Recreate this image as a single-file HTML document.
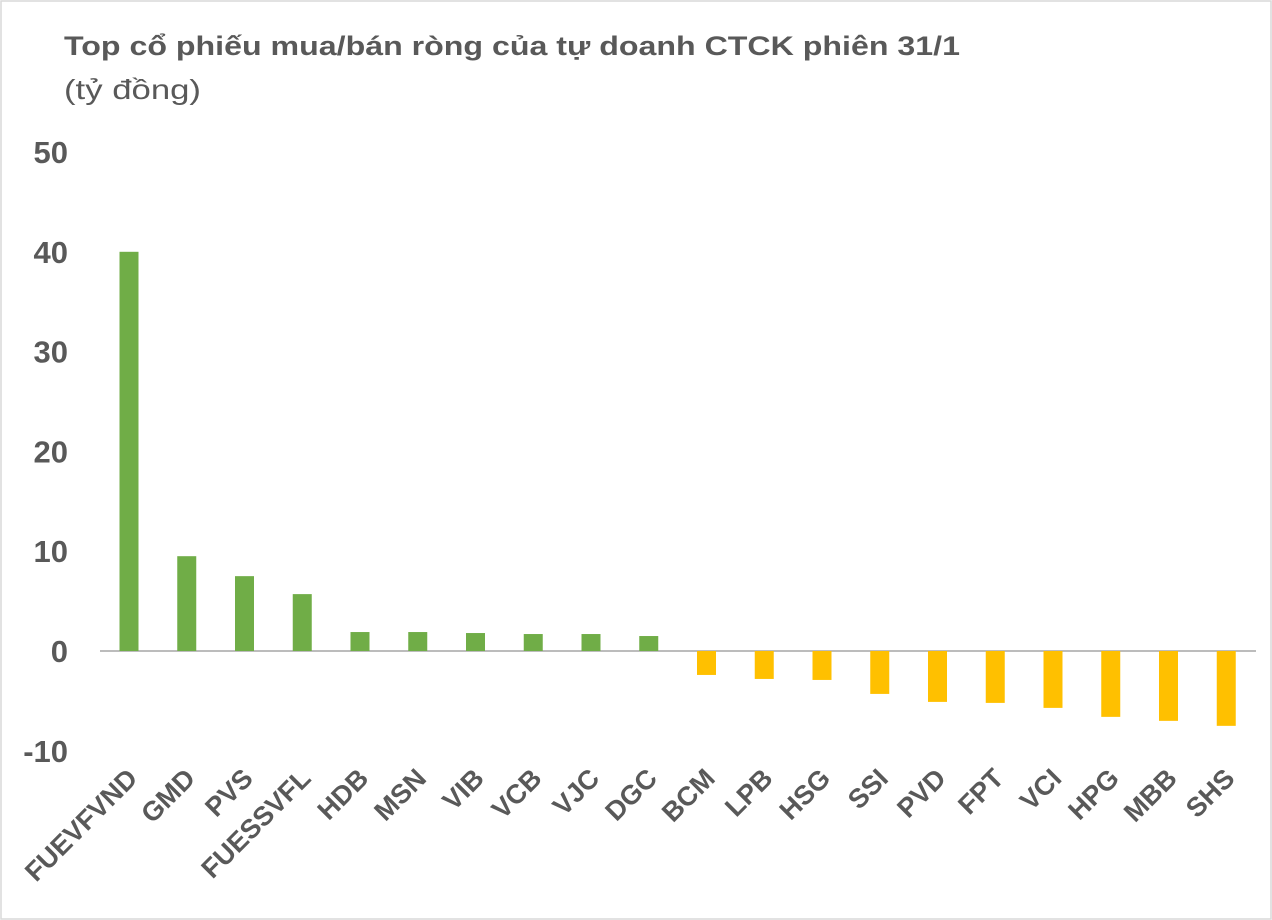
<!DOCTYPE html>
<html><head><meta charset="utf-8"><style>
body{margin:0;background:#fff;font-family:"Liberation Sans",sans-serif;}
#c{position:relative;width:1272px;height:920px;overflow:hidden;}
</style></head><body>
<div id="c">
<svg id="s" width="1272" height="920">
<rect x="1" y="1" width="1270" height="918" fill="#fff" stroke="#d9d9d9" stroke-width="1.5"/>
<text x="64" y="55" font-size="27" font-weight="bold" fill="#595959" textLength="896" lengthAdjust="spacingAndGlyphs">Top cổ phiếu mua/bán ròng của tự doanh CTCK phiên 31/1</text>
<text x="64" y="99" font-size="28" fill="#595959" textLength="137" lengthAdjust="spacingAndGlyphs">(tỷ đồng)</text>
<g id="g"></g>
</svg>
</div>
<script>
const categories=["FUEVFVND","GMD","PVS","FUESSVFL","HDB","MSN","VIB","VCB","VJC","DGC","BCM","LPB","HSG","SSI","PVD","FPT","VCI","HPG","MBB","SHS"];
const values=[40.0,9.5,7.5,5.7,1.9,1.9,1.8,1.7,1.7,1.5,-2.4,-2.8,-2.9,-4.3,-5.1,-5.2,-5.7,-6.6,-7.0,-7.5];
const ticks=[50,40,30,20,10,0,-10];
const ns="http://www.w3.org/2000/svg";
const g=document.getElementById("g");
const y=v=>651-v*9.98;
const x=i=>129+i*57.75;
function mk(t,a){const e=document.createElementNS(ns,t);for(const k in a)e.setAttribute(k,a[k]);g.appendChild(e);return e;}
ticks.forEach(t=>{
 const e=mk("text",{x:68,y:y(t)+11,"text-anchor":"end","font-size":"31","font-weight":"bold",fill:"#595959"});
 e.textContent=t;
 
 
});
const ax=mk("line",{x1:100,x2:1256,y1:y(0),y2:y(0),stroke:"#a6a6a6","stroke-width":"1.5"});


categories.forEach((c,i)=>{
 const v=values[i];
 const r=mk("rect",{x:x(i)-9.5,y:Math.min(y(v),y(0)),width:19,height:Math.abs(y(v)-y(0)),fill:v>=0?"#70ad47":"#ffc000"});
 
 
 const t=mk("text",{x:x(i)+10,y:780,"text-anchor":"end","font-size":"27","font-weight":"bold",fill:"#595959",transform:`rotate(-45 ${x(i)+10} 780)`});
 t.textContent=c;
 
 
});
</script>
</body></html>
